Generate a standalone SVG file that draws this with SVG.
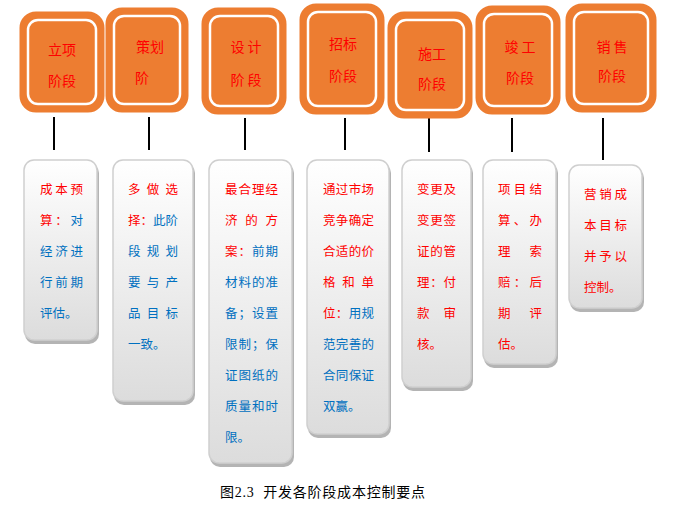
<svg xmlns="http://www.w3.org/2000/svg" width="673" height="507" viewBox="0 0 673 507">
<defs>
<linearGradient id="g" x1="0" y1="0" x2="0" y2="1"><stop offset="0" stop-color="#ffffff"/><stop offset="1" stop-color="#dcdcdc"/></linearGradient>
<style>
.ob{fill:#ED7D31;stroke:#ED7D31;stroke-width:5}
.ib{fill:#ED7D31;stroke:#ffffff;stroke-width:2.5}
.ot{font-family:"Noto Sans CJK SC",sans-serif;font-size:14px;fill:#FF0000;text-anchor:middle}
.sh{fill:#b4b4b4}
.cd{fill:url(#g);stroke:#cfcfcf;stroke-width:1.5}
.ct{font-family:"Noto Sans CJK SC",sans-serif;font-size:12.5px}
.r{fill:#FF0000}.b{fill:#0070C0}
.ln{stroke:#000;stroke-width:2}
</style>
</defs>
<rect width="673" height="507" fill="#fff"/>
<g id="connectors">
<line class="ln" x1="54" y1="117" x2="54" y2="150"/>
<line class="ln" x1="149" y1="117" x2="149" y2="150"/>
<line class="ln" x1="245" y1="118" x2="245" y2="150"/>
<line class="ln" x1="345" y1="118" x2="345" y2="150"/>
<line class="ln" x1="429" y1="118" x2="429" y2="152"/>
<line class="ln" x1="512" y1="118" x2="512" y2="152"/>
<line class="ln" x1="603" y1="118" x2="603" y2="160"/>
</g>
<g id="s1"><rect class="ob" x="22" y="14" width="80" height="96" rx="14"/><rect class="ib" x="28" y="20" width="68" height="84" rx="10"/><text class="ot" x="62" y="55">立项</text><text class="ot" x="62" y="86">阶段</text></g>
<g id="s2"><rect class="ob" x="108" y="10" width="78" height="100" rx="14"/><rect class="ib" x="114" y="16" width="66" height="88" rx="10"/><text class="ot" x="150" y="52">策划</text><text class="ot" x="142" y="83">阶</text></g>
<g id="s3"><rect class="ob" x="204" y="10" width="80" height="102" rx="14"/><rect class="ib" x="210" y="16" width="68" height="90" rx="10"/><text class="ot" x="246" y="52">设 计</text><text class="ot" x="246" y="85">阶 段</text></g>
<g id="s4"><rect class="ob" x="302" y="6" width="80" height="106" rx="14"/><rect class="ib" x="308" y="12" width="68" height="94" rx="10"/><text class="ot" x="343" y="49">招标</text><text class="ot" x="343" y="81">阶段</text></g>
<g id="s5"><rect class="ob" x="390" y="14" width="80" height="102" rx="14"/><rect class="ib" x="396" y="20" width="68" height="90" rx="10"/><text class="ot" x="432" y="59">施工</text><text class="ot" x="432" y="89">阶段</text></g>
<g id="s6"><rect class="ob" x="478" y="8" width="80" height="104" rx="14"/><rect class="ib" x="484" y="14" width="68" height="92" rx="10"/><text class="ot" x="520" y="52">竣 工</text><text class="ot" x="520" y="83">阶段</text></g>
<g id="s7"><rect class="ob" x="568" y="6" width="86" height="104" rx="14"/><rect class="ib" x="574" y="12" width="74" height="92" rx="10"/><text class="ot" x="612" y="52">销 售</text><text class="ot" x="612" y="81">阶段</text></g>

<g id="c1"><rect class="sh" x="25" y="163" width="74" height="181" rx="10"/><rect class="cd" x="24" y="160" width="73" height="180" rx="10"/>
<g class="ct"><text x="40" y="194" class="r" textLength="43" lengthAdjust="spacing">成本预</text>
<text x="40" y="225" textLength="43" lengthAdjust="spacing"><tspan class="r">算：</tspan><tspan class="b">对</tspan></text>
<text x="40" y="256" class="b" textLength="43" lengthAdjust="spacing">经济进</text>
<text x="40" y="287" class="b" textLength="43" lengthAdjust="spacing">行前期</text>
<text x="40" y="318" class="b">评估。</text></g></g>

<g id="c2"><rect class="sh" x="114" y="163" width="81" height="242" rx="10"/><rect class="cd" x="113" y="160" width="80" height="241" rx="10"/>
<g class="ct"><text x="128" y="194" class="r" textLength="50" lengthAdjust="spacing">多做选</text>
<text x="128" y="225" textLength="50" lengthAdjust="spacing"><tspan class="r">择：</tspan><tspan class="b">此阶</tspan></text>
<text x="128" y="256" class="b" textLength="50" lengthAdjust="spacing">段规划</text>
<text x="128" y="287" class="b" textLength="50" lengthAdjust="spacing">要与产</text>
<text x="128" y="318" class="b" textLength="50" lengthAdjust="spacing">品目标</text>
<text x="128" y="349" class="b">一致。</text></g></g>

<g id="c3"><rect class="sh" x="210" y="163" width="84" height="304" rx="10"/><rect class="cd" x="209" y="160" width="83" height="303" rx="10"/>
<g class="ct"><text x="225" y="194" class="r" textLength="53" lengthAdjust="spacing">最合理经</text>
<text x="225" y="225" class="r" textLength="53" lengthAdjust="spacing">济的方</text>
<text x="225" y="256" textLength="53" lengthAdjust="spacing"><tspan class="r">案：</tspan><tspan class="b">前期</tspan></text>
<text x="225" y="287" class="b" textLength="53" lengthAdjust="spacing">材料的准</text>
<text x="225" y="318" class="b" textLength="53" lengthAdjust="spacing">备；设置</text>
<text x="225" y="349" class="b" textLength="53" lengthAdjust="spacing">限制；保</text>
<text x="225" y="380" class="b" textLength="53" lengthAdjust="spacing">证图纸的</text>
<text x="225" y="411" class="b" textLength="53" lengthAdjust="spacing">质量和时</text>
<text x="225" y="442" class="b">限。</text></g></g>

<g id="c4"><rect class="sh" x="308" y="163" width="83" height="275" rx="10"/><rect class="cd" x="307" y="160" width="82" height="274" rx="10"/>
<g class="ct"><text x="323" y="194" class="r" textLength="51" lengthAdjust="spacing">通过市场</text>
<text x="323" y="225" class="r" textLength="51" lengthAdjust="spacing">竞争确定</text>
<text x="323" y="256" class="r" textLength="51" lengthAdjust="spacing">合适的价</text>
<text x="323" y="287" class="r" textLength="51" lengthAdjust="spacing">格和单</text>
<text x="323" y="318" textLength="51" lengthAdjust="spacing"><tspan class="r">位：</tspan><tspan class="b">用规</tspan></text>
<text x="323" y="349" class="b" textLength="51" lengthAdjust="spacing">范完善的</text>
<text x="323" y="380" class="b" textLength="51" lengthAdjust="spacing">合同保证</text>
<text x="323" y="411" class="b">双赢。</text></g></g>

<g id="c5"><rect class="sh" x="403" y="163" width="70" height="228" rx="10"/><rect class="cd" x="402" y="160" width="69" height="227" rx="10"/>
<g class="ct r"><text x="417" y="194" textLength="39" lengthAdjust="spacing">变更及</text>
<text x="417" y="225" textLength="39" lengthAdjust="spacing">变更签</text>
<text x="417" y="256" textLength="39" lengthAdjust="spacing">证的管</text>
<text x="417" y="287" textLength="39" lengthAdjust="spacing">理：付</text>
<text x="417" y="318" textLength="39" lengthAdjust="spacing">款审</text>
<text x="417" y="349">核。</text></g></g>

<g id="c6"><rect class="sh" x="484" y="163" width="74" height="205" rx="10"/><rect class="cd" x="483" y="160" width="73" height="204" rx="10"/>
<g class="ct r"><text x="498" y="194" textLength="44" lengthAdjust="spacing">项目结</text>
<text x="498" y="225" textLength="44" lengthAdjust="spacing">算、办</text>
<text x="498" y="256" textLength="44" lengthAdjust="spacing">理索</text>
<text x="498" y="287" textLength="44" lengthAdjust="spacing">赔：后</text>
<text x="498" y="318" textLength="44" lengthAdjust="spacing">期评</text>
<text x="498" y="349">估。</text></g></g>

<g id="c7"><rect class="sh" x="570" y="168" width="74" height="144" rx="10"/><rect class="cd" x="569" y="165" width="73" height="143" rx="10"/>
<g class="ct r"><text x="584" y="199" textLength="43" lengthAdjust="spacing">营销成</text>
<text x="584" y="230" textLength="43" lengthAdjust="spacing">本目标</text>
<text x="584" y="261" textLength="43" lengthAdjust="spacing">并予以</text>
<text x="584" y="292">控制。</text></g></g>

<text x="220" y="497" font-family="Liberation Serif,Noto Sans CJK SC,serif" font-size="14" fill="#000" xml:space="preserve" textLength="205" lengthAdjust="spacing">图2.3  开发各阶段成本控制要点</text>
</svg>
